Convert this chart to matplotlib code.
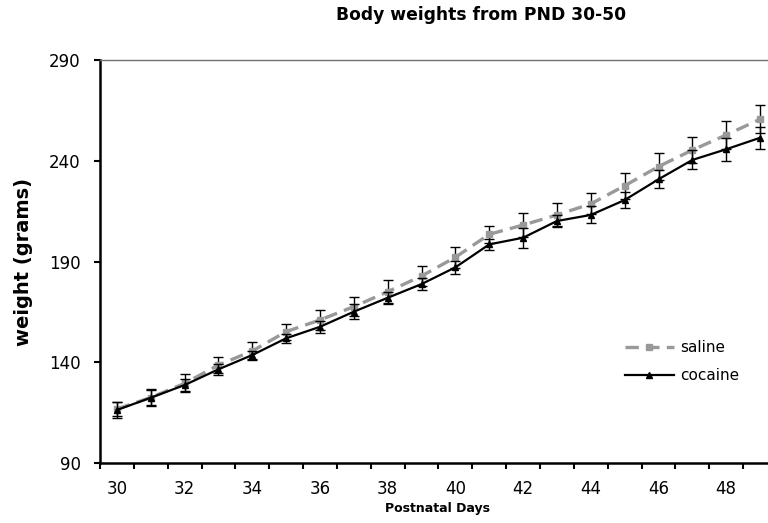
import numpy as np
import matplotlib
matplotlib.use("Agg")
from matplotlib import pyplot as plt
from matplotlib.ticker import FixedLocator

days = list(range(30, 50))
saline = [116.8, 122.5, 129.5, 138.6, 145.6, 155.2, 161.0, 167.6, 175.0, 182.8,
          192.1, 203.5, 208.1, 213.1, 218.6, 227.6, 237.1, 245.3, 252.8, 260.6]
saline_err = [3.3, 4.0, 4.5, 4.0, 4.5, 4.0, 5.0, 4.6, 5.8, 5.0,
              5.3, 4.3, 5.8, 5.7, 5.2, 6.4, 6.7, 6.3, 7.0, 7.0]
cocaine = [116.3, 122.4, 128.7, 136.5, 143.6, 151.9, 157.6, 165.1, 172.0, 178.8,
           187.1, 198.5, 201.8, 210.1, 213.1, 220.5, 230.8, 240.4, 245.7, 251.4]
cocaine_err = [3.8, 3.6, 2.8, 2.8, 2.2, 2.2, 2.9, 3.8, 3.0, 2.9,
               3.3, 2.8, 5.0, 3.0, 4.2, 3.8, 4.5, 4.7, 5.7, 5.5]
xticks = list(range(30, 49, 2))
yticks = [90, 140, 190, 240, 290]

fig = plt.figure(figsize=(7.68, 5.23), dpi=100)
ax = fig.add_axes([0.1302, 0.1147, 0.8815, 0.7706])

# saline: grey dashed with squares
sal = ax.errorbar(days, saline, yerr=saline_err, color='#999999', lw=2.4, ls=(0, (4, 2.2)),
                  marker='s', ms=4.5, mec='#999999', ecolor='black', elinewidth=1,
                  capsize=3.6, capthick=1, zorder=2)
# cocaine: black solid with triangles
coc = ax.errorbar(days, cocaine, yerr=cocaine_err, color='black', lw=1.6,
                  marker='^', ms=4.5, ecolor='black', elinewidth=1,
                  capsize=3.6, capthick=1, zorder=3)

ax.set_xlim(29.5, 49.5)
ax.set_ylim(90, 290)
ax.set_xticks(xticks)
ax.set_xticklabels([str(t) for t in xticks])
ax.xaxis.set_minor_locator(FixedLocator(np.arange(29.5, 50, 1)))
ax.tick_params(axis='x', which='major', length=0, pad=12, labelsize=12)
ax.tick_params(axis='x', which='minor', length=4, width=1.5, direction='out')
ax.set_yticks(yticks)
ax.tick_params(axis='y', length=4, width=1.5, pad=10, labelsize=12)

for s in ['left', 'bottom']:
    ax.spines[s].set_linewidth(1.8)
ax.spines['right'].set_visible(False)
ax.spines['top'].set_color('#707070')
ax.spines['top'].set_linewidth(1)

fig.text(0.570, 0.027, 'Postnatal Days', fontsize=9, fontweight='bold',
         ha='center', va='center')
fig.text(0.03, 0.499, 'weight (grams)', rotation=90, fontsize=14,
         fontweight='bold', ha='center', va='center')
fig.text(0.626, 0.971, 'Body weights from PND 30-50', fontsize=12.3,
         fontweight='bold', ha='center', va='center')

ax.legend([sal[0], coc[0]], ['saline', 'cocaine'], loc='center left',
          bbox_to_anchor=(0.755, 0.252), frameon=False,
          fontsize=11, handlelength=3.2, handletextpad=0.4, labelspacing=0.85)

fig.savefig('out.png', dpi=100)
